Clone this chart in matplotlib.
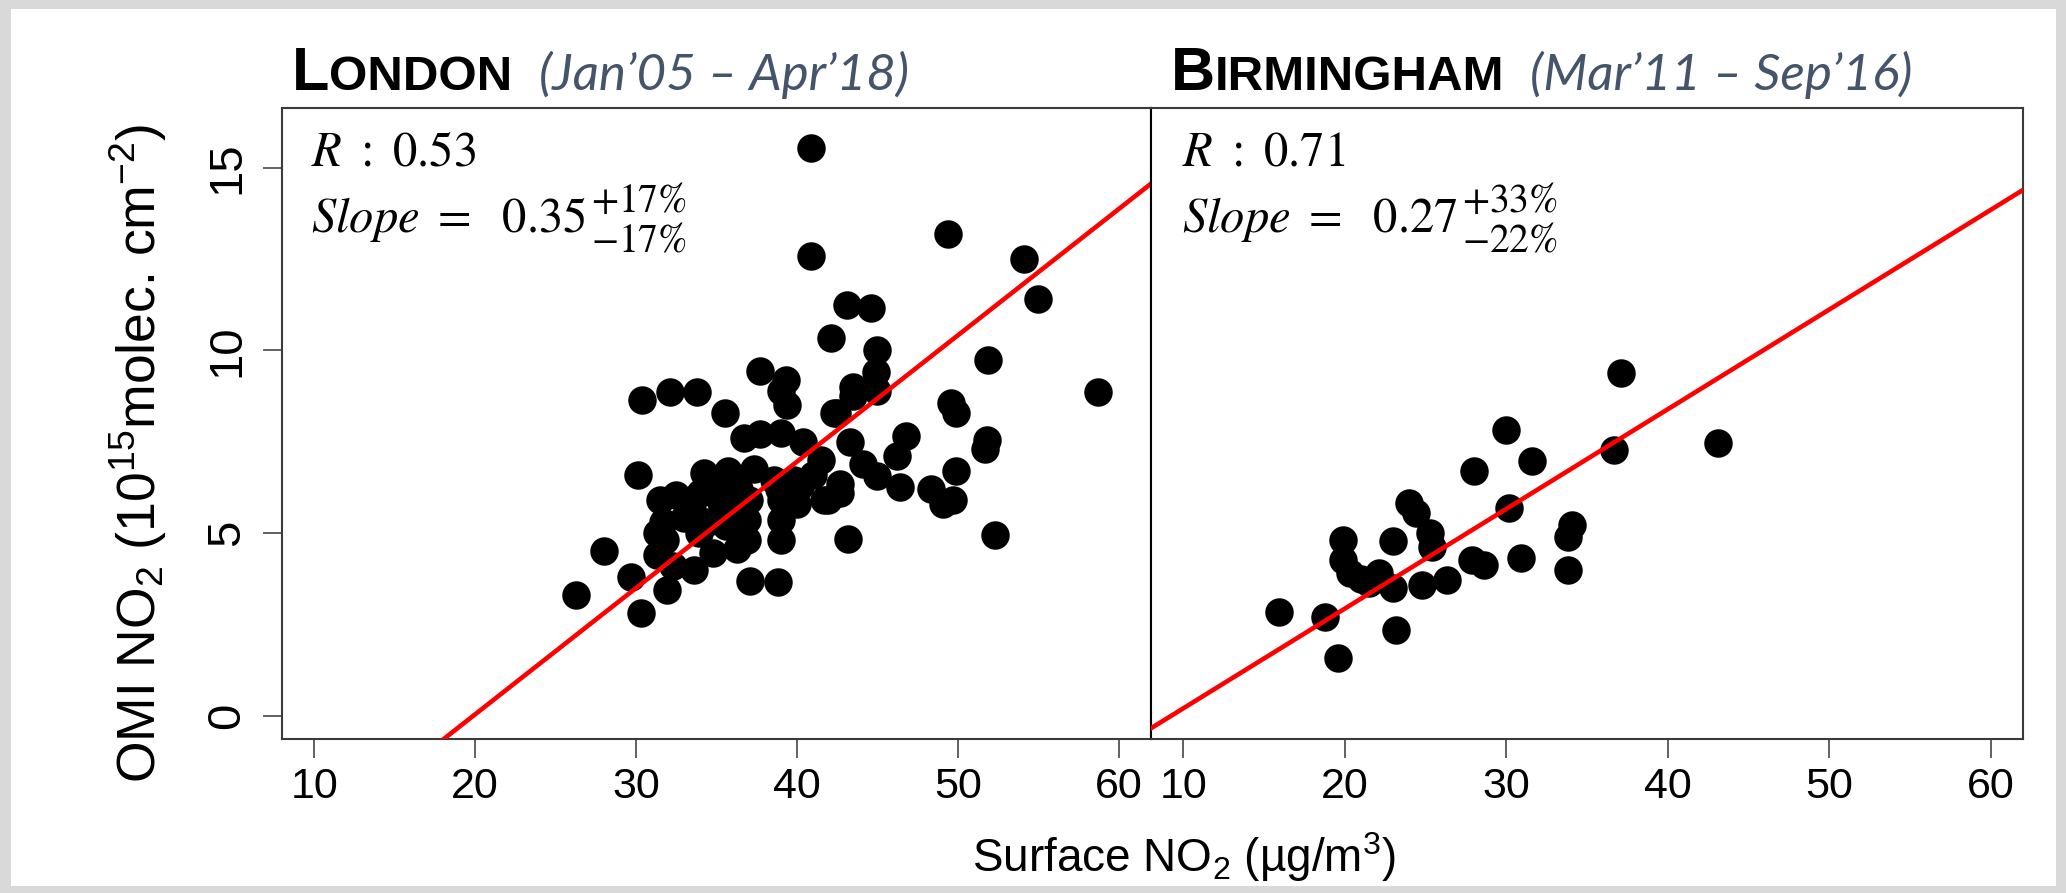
import matplotlib
matplotlib.use('Agg')
import matplotlib.pyplot as plt
from matplotlib.patches import Rectangle

plt.rcParams['font.family'] = ['Liberation Sans', 'DejaVu Sans']
plt.rcParams['mathtext.fontset'] = 'custom'
plt.rcParams['mathtext.rm'] = 'Liberation Sans'
plt.rcParams['mathtext.it'] = 'Liberation Sans:italic'
plt.rcParams['mathtext.bf'] = 'Liberation Sans:bold'

# ---- data ----
london_x = [26.3, 28.0, 29.7, 30.1, 30.4, 30.3, 31.3, 31.9, 31.3, 31.5,
            31.7, 32.5, 32.1, 32.3, 31.8, 33.8, 33.6, 33.5, 34.2, 34.8,
            34.5, 35.5, 35.7, 35.2, 36.3, 36.7, 36.9, 36.9, 37.1, 37.3,
            37.7, 37.7, 38.6, 38.8, 39.0, 39.0, 39.0, 39.0, 39.3, 39.4,
            39.8, 40.4, 40.0, 40.9, 40.9, 41.7, 41.9, 42.1, 42.3, 42.5,
            42.7, 42.7, 43.1, 43.2, 43.3, 43.5, 43.5, 44.1, 44.6, 45.0,
            44.9, 45.0, 45.0, 46.2, 46.4, 46.8, 48.3, 49.1, 49.4, 49.6,
            49.9, 49.9, 49.7, 51.7, 51.8, 51.9, 52.3, 54.1, 55.0, 58.7,
            41.5, 40.2, 41.0, 33.0, 34.0, 35.0, 36.0, 36.4, 33.9, 35.6,
            37.0, 39.0, 38.9]
london_y = [3.3, 4.5, 3.8, 6.6, 8.65, 2.8, 4.4, 3.45, 5.0, 5.9,
            5.3, 6.05, 8.85, 4.1, 4.8, 8.85, 4.0, 5.65, 6.65, 4.45,
            5.3, 8.3, 6.7, 5.9, 4.55, 7.6, 5.35, 4.8, 3.7, 6.75,
            7.7, 9.45, 6.45, 3.65, 7.75, 5.35, 4.8, 8.9, 9.2, 8.5,
            6.45, 7.5, 5.8, 15.55, 12.6, 5.9, 5.9, 10.35, 8.3, 8.3,
            6.35, 6.1, 11.25, 4.85, 7.5, 8.75, 9.0, 6.9, 11.15, 10.0,
            9.4, 8.9, 6.55, 7.1, 6.25, 7.65, 6.2, 5.8, 13.2, 8.55,
            8.3, 6.7, 5.9, 7.3, 7.55, 9.75, 4.95, 12.5, 11.4, 8.85,
            7.0, 6.3, 6.6, 5.4, 6.1, 6.4, 5.6, 6.2, 5.0, 5.2,
            5.9, 5.9, 6.2]

birm_x = [37.1, 30.0, 43.1, 36.7, 31.6, 28.0, 30.2, 24.0, 24.4, 25.3,
          25.4, 23.0, 19.9, 19.9, 20.3, 22.1, 21.5, 23.0, 24.8, 26.3,
          27.9, 28.6, 30.9, 34.1, 33.8, 33.8, 15.9, 18.8, 23.2, 19.6,
          21.0]
birm_y = [9.38, 7.83, 7.46, 7.28, 6.96, 6.69, 5.68, 5.82, 5.55, 5.0,
          4.63, 4.77, 4.81, 4.27, 3.9, 3.9, 3.63, 3.49, 3.58, 3.72,
          4.27, 4.13, 4.31, 5.22, 4.9, 3.99, 2.85, 2.71, 2.35, 1.57,
          3.75]

# regression lines (slope, intercept)
london_fit = (0.346, -6.885)
birm_fit = (0.273, -2.53)

x_ticks = [10, 20, 30, 40, 50, 60]
y_ticks = [0, 5, 10, 15]

W, H = 2066, 893
fig = plt.figure(figsize=(W / 100, H / 100), dpi=100, facecolor='#d9d9d9')
fig.patches.append(Rectangle((11 / W, 7 / H), (2056 - 11) / W, (884 - 7) / H,
                             transform=fig.transFigure, facecolor='white',
                             edgecolor='none', zorder=-10))


def px_axes(x0, y0, x1, y1):
    return fig.add_axes([x0 / W, 1 - y1 / H, (x1 - x0) / W, (y1 - y0) / H])


ax1 = px_axes(282, 108, 1151, 739)
ax2 = px_axes(1151, 108, 2023, 739)

for ax, xs, ys, fit in [(ax1, london_x, london_y, london_fit),
                        (ax2, birm_x, birm_y, birm_fit)]:
    ax.plot(xs, ys, 'o', ls='none', color='black', markersize=20.5,
            markeredgewidth=0, zorder=3)
    ax.axline((0, fit[1]), slope=fit[0], color='#ff0000', lw=3.3, zorder=4)
    ax.set_xlim(8, 62)
    ax.set_ylim(-0.64, 16.64)
    ax.set_xticks(x_ticks)
    ax.set_yticks(y_ticks)
    for sp in ax.spines.values():
        sp.set_linewidth(1.5)
        sp.set_color('#3a3a3a')
    ax.tick_params(direction='out', length=13.5, width=1.3, color='#555555')
    ax.tick_params(axis='x', labelsize=31, pad=7)

ax1.tick_params(axis='y', labelrotation=90, labelsize=34, pad=10)
for lbl in ax1.get_yticklabels():
    lbl.set_va('center')
ax2.tick_params(axis='y', left=False, labelleft=False)
ax1.spines['right'].set_color('black')
ax2.spines['left'].set_color('black')

# axis labels
fig.text(1184 / W, 1 - 872 / H, 'Surface NO$_2$ (µg/m$^3$)', ha='center',
         va='baseline', fontsize=33)
fig.text(138 / W, 1 - 453 / H, 'OMI NO$_2$ (10$^{15}$molec. cm$^{-2}$)',
         rotation=90, ha='center', va='center', fontsize=38.5)

renderer = fig.canvas.get_renderer()


def caps_title(x_px, y_px, first, rest):
    t = fig.text(x_px / W, 1 - y_px / H, first, fontsize=44, weight='bold',
                 va='baseline', ha='left')
    x1 = t.get_window_extent(renderer).x1
    fig.text(x1 / W, 1 - y_px / H, rest, fontsize=35.5, weight='bold',
             va='baseline', ha='left')


caps_title(292, 90, 'L', 'ONDON')
caps_title(1171, 90, 'B', 'IRMINGHAM')
fig.text(539 / W, 1 - 90 / H, '(Jan’05 – Apr’18)', family='Lato',
         style='italic', color='#44546a', fontsize=36.8, va='baseline')
fig.text(1530 / W, 1 - 90 / H, '(Mar’11 – Sep’16)', family='Lato',
         style='italic', color='#44546a', fontsize=36.8, va='baseline')

# statistics in each panel
stats = [(311, '0.53', '0.35', '+17', '-17'),
         (1182, '0.71', '0.27', '+33', '-22')]
for x_px, r, slope, up, lo in stats:
    fig.text(x_px / W, 1 - 165 / H, r'$R\ :\ %s$' % r, math_fontfamily='stix',
             fontsize=35, va='baseline')
    t = fig.text(x_px / W, 1 - 232 / H, r'$Slope\ =\ \ %s$' % slope,
                 math_fontfamily='stix', fontsize=35, va='baseline')
    xe = t.get_window_extent(renderer).x1 + 5
    fig.text(xe / W, 1 - 212 / H, r'$%s\%%$' % up, math_fontfamily='stix',
             fontsize=28.5, va='baseline')
    fig.text(xe / W, 1 - 251 / H, r'$%s\%%$' % lo, math_fontfamily='stix',
             fontsize=28.5, va='baseline')

fig.savefig('out.png', dpi=100, facecolor=fig.get_facecolor())
